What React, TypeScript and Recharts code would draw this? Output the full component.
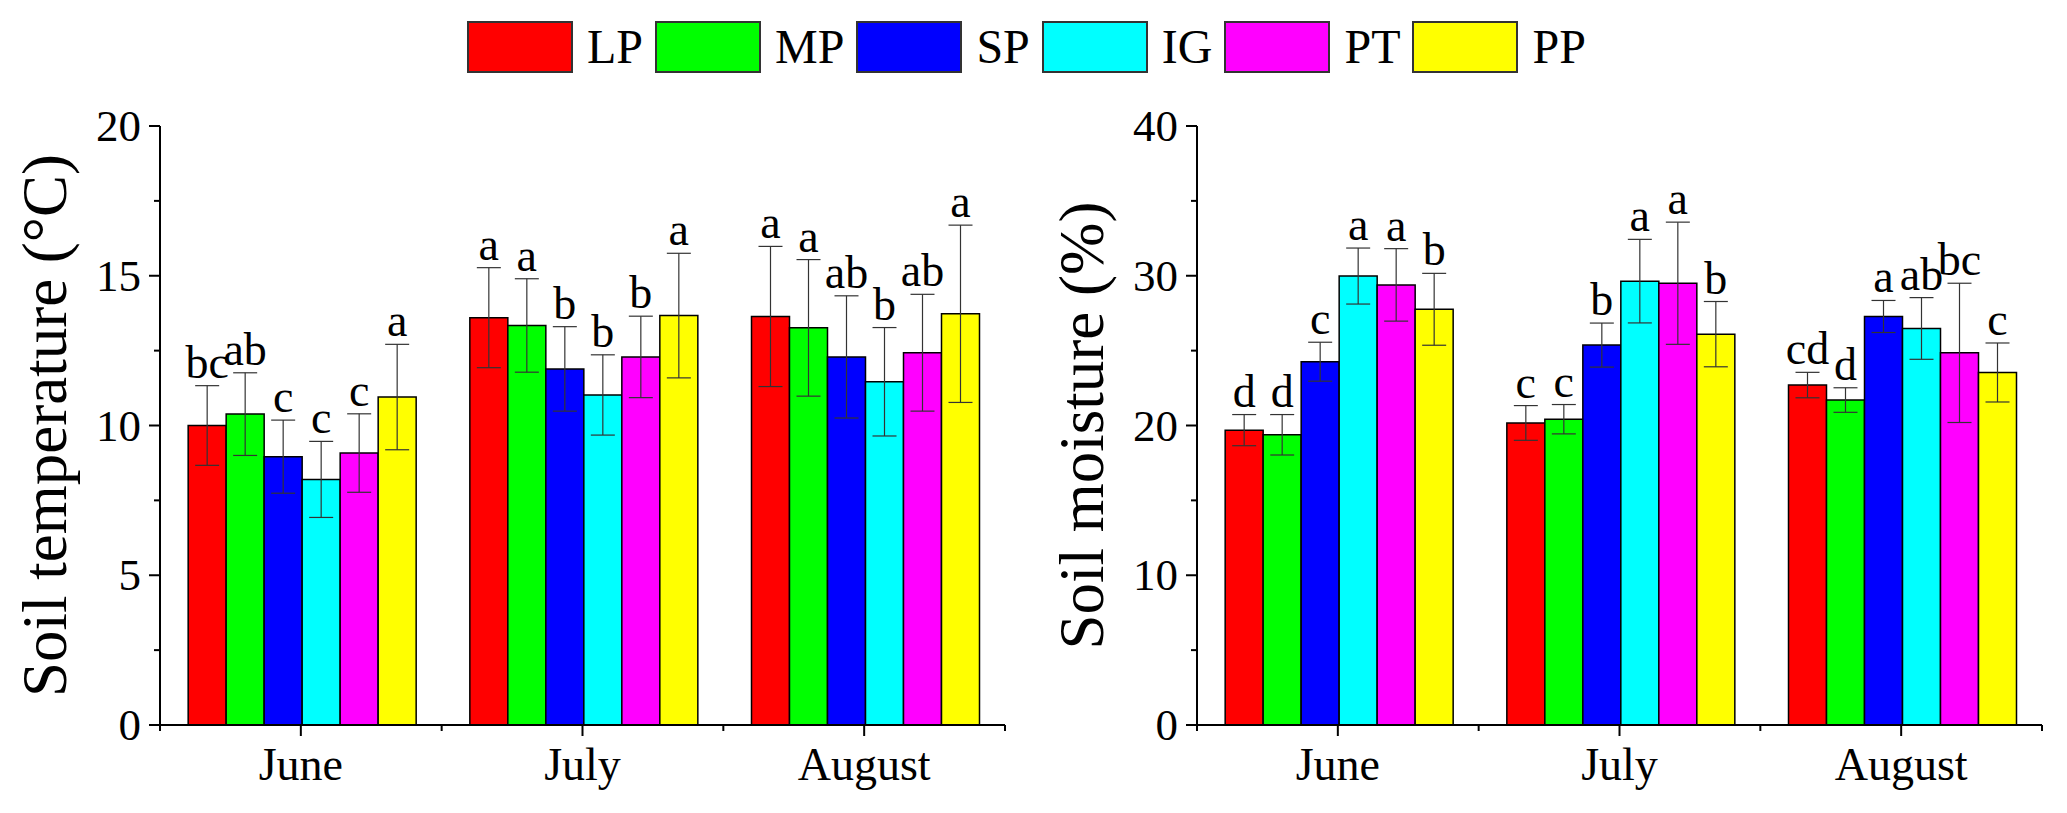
import React from 'react';
import { BarChart, Bar, XAxis, YAxis, ErrorBar, LabelList } from 'recharts';

const months = ['June', 'July', 'August'];
const treatments = ['LP', 'MP', 'SP', 'IG', 'PT', 'PP'];
const colors = ['#FF0000', '#00FF00', '#0000FF', '#00FFFF', '#FF00FF', '#FFFF00'];

// Soil temperature (°C): rows = months, columns = treatments
const tempMeans = [
  [10.0, 10.38, 8.96, 8.2, 9.08, 10.95],
  [13.6, 13.34, 11.89, 11.02, 12.29, 13.67],
  [13.64, 13.26, 12.29, 11.46, 12.43, 13.73],
];
const tempErrs = [
  [1.33, 1.38, 1.22, 1.27, 1.31, 1.76],
  [1.67, 1.56, 1.41, 1.34, 1.36, 2.08],
  [2.34, 2.28, 2.04, 1.81, 1.95, 2.96],
];
const tempLetters = [
  ['bc', 'ab', 'c', 'c', 'c', 'a'],
  ['a', 'a', 'b', 'b', 'b', 'a'],
  ['a', 'a', 'ab', 'b', 'ab', 'a'],
];
const tempTicks = [0, 2.5, 5, 7.5, 10, 12.5, 15, 17.5, 20];
const tempMajorTicks = [0, 5, 10, 15, 20];

// Soil moisture (%)
const moistMeans = [
  [19.69, 19.38, 24.26, 29.98, 29.39, 27.76],
  [20.17, 20.42, 25.37, 29.64, 29.5, 26.1],
  [22.7, 21.7, 27.28, 26.48, 24.85, 23.54],
];
const moistErrs = [
  [1.04, 1.35, 1.3, 1.87, 2.42, 2.4],
  [1.16, 0.98, 1.47, 2.79, 4.08, 2.18],
  [0.85, 0.82, 1.07, 2.06, 4.65, 1.97],
];
const moistLetters = [
  ['d', 'd', 'c', 'a', 'a', 'b'],
  ['c', 'c', 'b', 'a', 'a', 'b'],
  ['cd', 'd', 'a', 'ab', 'bc', 'c'],
];
const moistTicks = [0, 5, 10, 15, 20, 25, 30, 35, 40];
const moistMajorTicks = [0, 10, 20, 30, 40];

const FONT = "'Liberation Serif', 'Times New Roman', serif";
const H = 813;
const TOP = 126;
const XAXIS_H = 88;

type PanelProps = {
  means: number[][];
  errs: number[][];
  letters: string[][];
  yMax: number;
  ticks: number[];
  majors: number[];
  title: string;
  width: number;
  axisW: number;
  rightM: number;
};

function Panel({ means, errs, letters, yMax, ticks, majors, title, width, axisW, rightM }: PanelProps) {
  const data = months.map((m, i) => {
    const row: any = { month: m };
    treatments.forEach((t, j) => {
      row[t] = means[i][j];
      row[t + '_err'] = errs[i][j];
      row[t + '_sig'] = letters[i][j];
    });
    return row;
  });
  const plotW = width - axisW - rightM;
  const plotH = H - TOP - XAXIS_H;
  const band = plotW / months.length;
  const axisStyle = { stroke: '#000', strokeWidth: 2 };

  const yTick = (p: any) => {
    const { x, y, payload } = p;
    const major = majors.includes(payload.value);
    return (
      <g>
        <line x1={x - (major ? 11 : 6)} x2={x} y1={y} y2={y} stroke="#000" strokeWidth={2} />
        {major && (
          <text x={x - 19} y={y + 15} textAnchor="end" fontSize={45} fontFamily={FONT} fill="#000">
            {payload.value}
          </text>
        )}
      </g>
    );
  };

  const xTick = (p: any) => {
    const { x, y, payload } = p;
    const isLast = payload.value === months[months.length - 1];
    return (
      <g>
        <line x1={x} x2={x} y1={y} y2={y + 11} stroke="#000" strokeWidth={2} />
        <line x1={x - band / 2} x2={x - band / 2} y1={y} y2={y + 6} stroke="#000" strokeWidth={2} />
        {isLast && <line x1={x + band / 2} x2={x + band / 2} y1={y} y2={y + 6} stroke="#000" strokeWidth={2} />}
        <text x={x} y={y + 55} textAnchor="middle" fontSize={46} fontFamily={FONT} fill="#000">
          {payload.value}
        </text>
      </g>
    );
  };

  const yLabel = (p: any) => {
    const vb = p && p.viewBox && p.viewBox.width != null ? p.viewBox : { x: 0, y: TOP, width: axisW, height: plotH };
    const bx = vb.x + vb.width - 94;
    const cy = vb.y + vb.height / 2;
    return (
      <text
        x={bx}
        y={cy}
        transform={`rotate(-90, ${bx}, ${cy})`}
        textAnchor="middle"
        fontSize={63}
        fontFamily={FONT}
        fill="#000"
      >
        {title}
      </text>
    );
  };

  const sigLabel = (j: number) => (p: any) => {
    const vb = p.viewBox && p.viewBox.width != null ? p.viewBox : p;
    const i = p.index;
    if (i == null || vb.height == null) return null;
    const v = means[i][j];
    const e = errs[i][j];
    const perUnit = vb.height / v;
    const top = vb.y - e * perUnit;
    return (
      <text x={vb.x + vb.width / 2} y={top - 8} textAnchor="middle" fontSize={46} fontFamily={FONT} fill="#000">
        {p.value}
      </text>
    );
  };

  return (
    <BarChart
      width={width}
      height={H}
      data={data}
      margin={{ top: TOP, right: rightM, bottom: 0, left: 0 }}
      barCategoryGap="10%"
      barGap={0}
    >
      <XAxis
        dataKey="month"
        height={XAXIS_H}
        tickSize={0}
        tickMargin={0}
        tickLine={false}
        axisLine={axisStyle}
        tick={xTick}
        interval={0}
      />
      <XAxis
        xAxisId="top"
        orientation="top"
        dataKey="month"
        height={0}
        tick={false}
        tickLine={false}
        axisLine={axisStyle}
      />
      <YAxis
        type="number"
        domain={[0, yMax]}
        ticks={ticks}
        width={axisW}
        tickSize={0}
        tickMargin={0}
        tickLine={false}
        axisLine={axisStyle}
        tick={yTick}
        interval={0}
        label={yLabel}
      />
      <YAxis
        yAxisId="right"
        orientation="right"
        type="number"
        domain={[0, yMax]}
        width={0}
        tick={false}
        tickLine={false}
        axisLine={axisStyle}
      />
      {treatments.map((t, j) => (
        <Bar key={t} dataKey={t} fill={colors[j]} stroke="#000" strokeWidth={1.5} isAnimationActive={false}>
          <ErrorBar dataKey={t + '_err'} width={12} stroke="#333" strokeWidth={1.2} />
          <LabelList dataKey={t + '_sig'} content={sigLabel(j)} />
        </Bar>
      ))}
    </BarChart>
  );
}

function Legend() {
  return (
    <div
      style={{
        position: 'absolute',
        left: 467,
        top: 21,
        display: 'flex',
        alignItems: 'center',
        fontFamily: FONT,
        fontSize: 48,
        color: '#000',
        whiteSpace: 'nowrap',
      }}
    >
      {treatments.map((t, j) => (
        <div key={t} style={{ display: 'flex', alignItems: 'center', height: 52 }}>
          <div
            style={{
              width: 106,
              height: 52,
              boxSizing: 'border-box',
              border: '2px solid #333',
              background: colors[j],
            }}
          />
          <span style={{ marginLeft: 14, marginRight: 12, lineHeight: '52px' }}>{t}</span>
        </div>
      ))}
    </div>
  );
}

export default function App() {
  return (
    <div style={{ position: 'absolute', left: 0, top: 0, width: 2067, height: 813, background: '#fff', overflow: 'hidden' }}>
      <div style={{ position: 'absolute', left: 0, top: 0 }}>
        <Panel
          means={tempMeans}
          errs={tempErrs}
          letters={tempLetters}
          yMax={20}
          ticks={tempTicks}
          majors={tempMajorTicks}
          title="Soil temperature (°C)"
          width={1034}
          axisW={160}
          rightM={29}
        />
      </div>
      <div style={{ position: 'absolute', left: 1034, top: 0 }}>
        <Panel
          means={moistMeans}
          errs={moistErrs}
          letters={moistLetters}
          yMax={40}
          ticks={moistTicks}
          majors={moistMajorTicks}
          title="Soil moisture (%)"
          width={1033}
          axisW={163}
          rightM={25}
        />
      </div>
      <Legend />
    </div>
  );
}
